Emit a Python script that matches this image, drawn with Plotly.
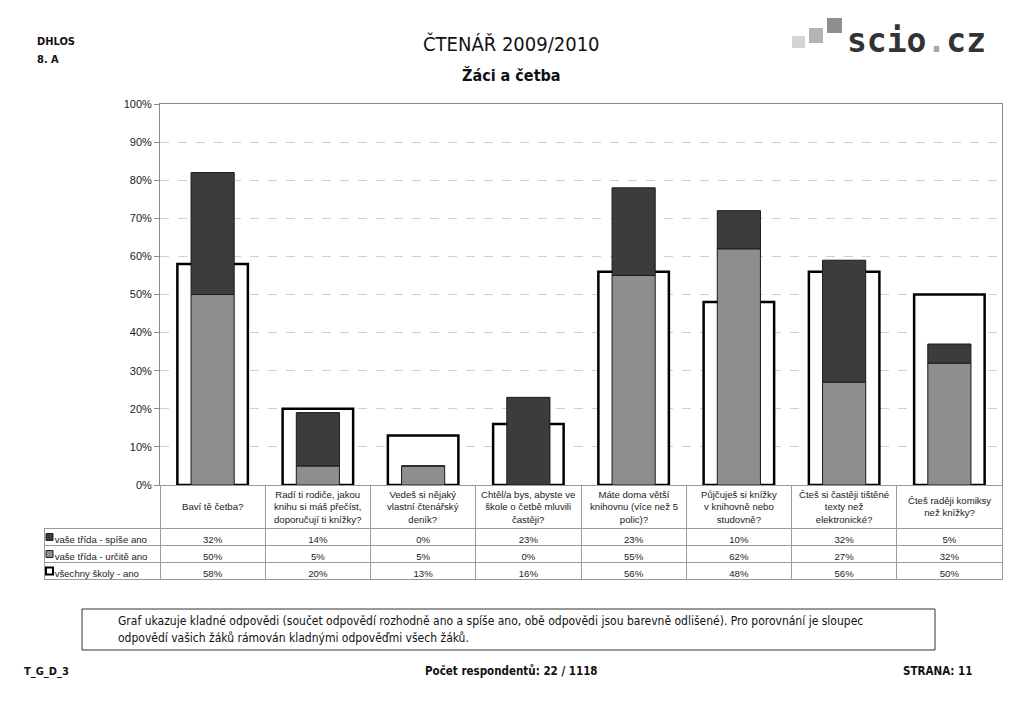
import plotly.graph_objects as go

categories = [
    "Baví tě četba?",
    "Radí ti rodiče, jakou<br>knihu si máš přečíst,<br>doporučují ti knížky?",
    "Vedeš si nějaký<br>vlastní čtenářský<br>deník?",
    "Chtěl/a bys, abyste ve<br>škole o četbě mluvili<br>častěji?",
    "Máte doma větší<br>knihovnu (více než 5<br>polic)?",
    "Půjčuješ si knížky<br>v knihovně nebo<br>studovně?",
    "Čteš si častěji tištěné<br>texty než<br>elektronické?",
    "Čteš raději komiksy<br>než knížky?",
]
spise_ano = [32, 14, 0, 23, 23, 10, 32, 5]      # vaše třída - spíše ano
urcite_ano = [50, 5, 5, 0, 55, 62, 27, 32]      # vaše třída - určitě ano
vsechny_skoly = [58, 20, 13, 16, 56, 48, 56, 50]  # všechny školy - ano
series_names = ["vaše třída - spíše ano", "vaše třída - určitě ano", "všechny školy - ano"]
y_ticks = list(range(0, 101, 10))

W, H = 1024, 701
FONT = "Liberation Sans, Arial, sans-serif"
NARROW = "DejaVu Sans Condensed, Liberation Sans, sans-serif"
DARK = "#3c3c3c"
MID = "#8e8e8e"


def px(x):
    return x / W


def py(y):
    return 1 - y / H


x = list(range(len(categories)))

fig = go.Figure()

# frame bar: all schools
fig.add_trace(go.Bar(
    x=x, y=vsechny_skoly, width=0.67, name=series_names[2],
    marker=dict(color="white", line=dict(color="black", width=2.5)),
    hoverinfo="y",
))
# class: definitely yes (bottom)
fig.add_trace(go.Bar(
    x=x, y=urcite_ano, width=0.41, name=series_names[1],
    marker=dict(color=MID, line=dict(color="#1a1a1a", width=1)),
    hoverinfo="y",
))
# class: rather yes (on top)
fig.add_trace(go.Bar(
    x=x, y=spise_ano, base=urcite_ano, width=0.41, name=series_names[0],
    marker=dict(color=DARK, line=dict(color="#1a1a1a", width=1)),
    hoverinfo="y",
))

# data table under the chart (category labels go in as annotations)
cell_vals = [["\u00a0" + n for n in series_names]] + [
    [f"{s}%", f"{u}%", f"{v}%"] for s, u, v in zip(spise_ano, urcite_ano, vsechny_skoly)
]
fig.add_trace(go.Table(
    domain=dict(x=[px(44), px(1002)], y=[py(590), py(485)]),
    columnwidth=[116] + [105.25] * len(categories),
    header=dict(
        values=[""] * (len(categories) + 1), height=43,
        fill=dict(color="rgba(0,0,0,0)"),
        line=dict(color=["rgba(0,0,0,0)"] + ["#9a9a9a"] * len(categories), width=1),
    ),
    cells=dict(
        values=cell_vals, height=17,
        align=["left"] + ["center"] * len(categories),
        font=dict(family=FONT, size=9.6, color="#222"),
        fill=dict(color="white"),
        line=dict(color="#9a9a9a", width=1),
    ),
))

annotations = [
    dict(x=i, y=py(506.5), xref="x", text=c, font=dict(size=9.6, family=FONT, color="#222"))
    for i, c in zip(x, categories)
]
annotations += [
    dict(x=px(35), y=py(42), text="<b>DHLOS</b>", xanchor="left", font=dict(size=11, family=NARROW)),
    dict(x=px(35), y=py(60), text="<b>8. A</b>", xanchor="left", font=dict(size=11, family=NARROW)),
    dict(x=px(511), y=py(44), text="ČTENÁŘ 2009/2010", font=dict(size=20, family=NARROW)),
    dict(x=px(511), y=py(75), text="<b>Žáci a četba</b>", font=dict(size=16, family=NARROW)),
    dict(x=px(845), y=py(40), xanchor="left",
         text="<b>scio<span style='color:#a8a8a8'>.</span>cz</b>",
         font=dict(size=33, family="DejaVu Sans Mono, DejaVu Sans", color="#333")),
    dict(x=px(116), y=py(621), xanchor="left",
         text="Graf ukazuje kladné odpovědi (součet odpovědí rozhodně ano a spíše ano, obě odpovědi jsou barevně odlišené). Pro porovnání je sloupec",
         font=dict(size=12, family=NARROW)),
    dict(x=px(116), y=py(638), xanchor="left",
         text="odpovědí vašich žáků rámován kladnými odpověďmi všech žáků.",
         font=dict(size=12, family=NARROW)),
    dict(x=px(22), y=py(671), xanchor="left", text="<b>T_G_D_3</b>", font=dict(size=11, family=NARROW)),
    dict(x=px(511), y=py(671), text="<b>Počet respondentů: 22 / 1118</b>", font=dict(size=11.5, family=NARROW)),
    dict(x=px(975), y=py(671), xanchor="right", text="<b>STRANA: 11</b>", font=dict(size=11.5, family=NARROW)),
]
for a in annotations:
    a.setdefault("xref", "paper")
    a.update(yref="paper", showarrow=False, yanchor="middle")
    a.setdefault("xanchor", "center")
    a["font"].setdefault("color", "#111")

shapes = [
    # logo squares
    dict(x0=px(792), x1=px(805), y0=py(48), y1=py(36), fillcolor="#d4d4d4"),
    dict(x0=px(809), x1=px(823), y0=py(43), y1=py(28), fillcolor="#b4b4b4"),
    dict(x0=px(827), x1=px(842), y0=py(33), y1=py(18), fillcolor="#8f8f8f"),
    # note box
    dict(x0=px(82), x1=px(935), y0=py(650), y1=py(609), fillcolor="rgba(0,0,0,0)",
         line=dict(color="#333", width=1)),
    # legend keys in the table
    dict(x0=px(46), x1=px(53), y0=py(540.5), y1=py(533.5), fillcolor=DARK,
         line=dict(color="#222", width=1), layer="above"),
    dict(x0=px(46), x1=px(53), y0=py(557.5), y1=py(550.5), fillcolor=MID,
         line=dict(color="#222", width=1), layer="above"),
    dict(x0=px(46), x1=px(53), y0=py(574.5), y1=py(567.5), fillcolor="white",
         line=dict(color="black", width=2), layer="above"),
]
for s in shapes:
    s.update(type="rect", xref="paper", yref="paper")
    s.setdefault("line", dict(width=0))

fig.update_layout(
    width=W, height=H, autosize=False,
    margin=dict(l=0, r=0, t=0, b=0, pad=0),
    paper_bgcolor="white", plot_bgcolor="white",
    barmode="overlay", showlegend=False,
    font=dict(family=FONT, color="#222"),
    annotations=annotations, shapes=shapes,
    xaxis=dict(
        domain=[px(160), px(1002)], range=[-0.5, len(categories) - 0.5],
        showticklabels=False, showgrid=False, zeroline=False, automargin=False,
        showline=True, linecolor="#8a8a8a", linewidth=1, mirror=True, fixedrange=True,
    ),
    yaxis=dict(
        domain=[py(485), py(104)], range=[0, 100], automargin=False,
        tickvals=y_ticks, ticktext=[f"{t}%" for t in y_ticks],
        ticks="outside", ticklen=5, tickcolor="#8a8a8a",
        tickfont=dict(size=11, family=FONT, color="#222"),
        showgrid=True, gridcolor="#d0d0d0", griddash="dash", gridwidth=1,
        zeroline=False, showline=True, linecolor="#8a8a8a", linewidth=1, mirror=True,
        fixedrange=True,
    ),
)

fig.write_html(
    "out.html",
    config={"displayModeBar": False},
    post_script="document.body.style.margin='0';document.body.style.overflow='hidden';",
)
